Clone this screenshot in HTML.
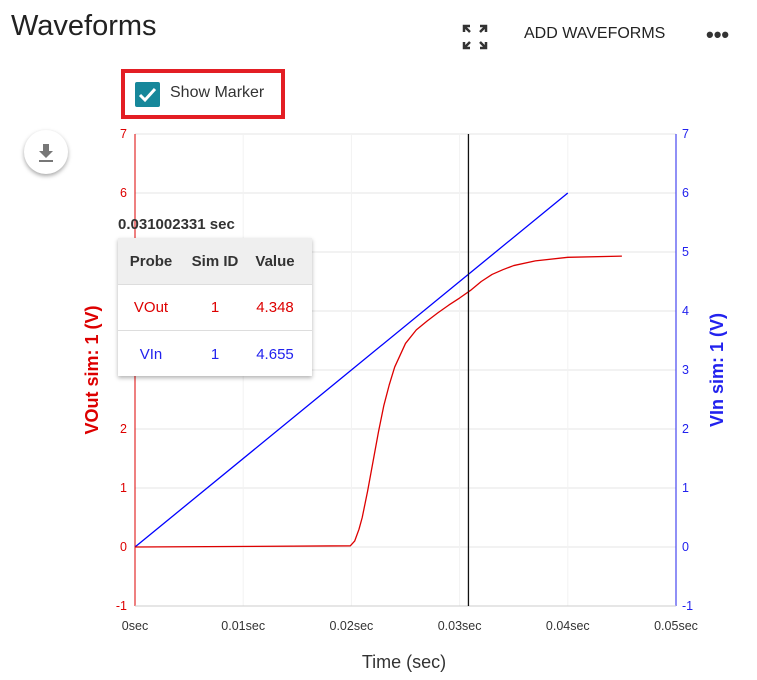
<!DOCTYPE html>
<html><head><meta charset="utf-8"><style>
body{margin:0;width:757px;height:680px;background:#fff;font-family:"Liberation Sans",sans-serif;position:relative;overflow:hidden}
.abs{position:absolute}
</style></head><body>
<div class="abs" style="left:11px;top:10px;font-size:29px;color:#222">Waveforms</div>
<div class="abs" style="left:462px;top:24px;width:26px;height:26px">
<svg width="26" height="26" viewBox="0 0 26 26" fill="none" stroke="#333" stroke-width="2.5"><path d="M2 8V2h6M18 2h6v6M24 18v6h-6M8 24H2v-6M3 3l5 5M23 3l-5 5M23 23l-5-5M3 23l5-5"/></svg></div>
<div class="abs" style="left:524px;top:25px;font-size:16px;color:#222">ADD WAVEFORMS</div>
<div class="abs" style="left:706px;top:22px;font-size:22px;color:#333;font-weight:bold">•••</div>
<div class="abs" style="left:121px;top:69px;width:156px;height:42px;border:4px solid #e31e24"></div>
<div class="abs" style="left:135px;top:82px;width:25px;height:25px;background:#16879a;border-radius:2px">
<svg width="25" height="25"><path d="M5 13l5 5 10-11" stroke="#fff" stroke-width="3" fill="none"/></svg></div>
<div class="abs" style="left:170px;top:84px;font-size:16px;color:#333">Show Marker</div>
<div class="abs" style="left:24px;top:130px;width:44px;height:44px;border-radius:50%;background:#fff;box-shadow:0 2px 4px rgba(0,0,0,.35)">
<svg width="44" height="44"><path d="M19 14h6v7h4l-7 7-7-7h4z" fill="#777"/><rect x="15" y="30" width="14" height="2" fill="#777"/></svg></div>
<svg class="abs" style="left:0;top:0" width="757" height="680" id="chart"></svg>
<div class="abs" style="left:118px;top:216px;font-size:15px;font-weight:bold;color:#333">0.031002331 sec</div>
<div class="abs" style="left:118px;top:238px;width:194px;height:138px;background:#fff;box-shadow:0 2px 4px rgba(0,0,0,.3);font-size:15px">
<div style="height:46px;background:#efefef;border-bottom:1px solid #ddd;display:flex;align-items:center;font-weight:bold;color:#333"><span style="width:66px;text-align:center">Probe</span><span style="width:62px;text-align:center">Sim ID</span><span style="width:58px;text-align:center">Value</span></div>
<div style="height:45px;border-bottom:1px solid #ddd;display:flex;align-items:center;color:#d00"><span style="width:66px;text-align:center">VOut</span><span style="width:62px;text-align:center">1</span><span style="width:58px;text-align:center">4.348</span></div>
<div style="height:46px;display:flex;align-items:center;color:#22e"><span style="width:66px;text-align:center">VIn</span><span style="width:62px;text-align:center">1</span><span style="width:58px;text-align:center">4.655</span></div>
</div>
<script>
const yTicks=[-1,0,1,2,3,4,5,6,7];
const xTicks=[0,0.01,0.02,0.03,0.04,0.05];
const xTickLabels=["0sec","0.01sec","0.02sec","0.03sec","0.04sec","0.05sec"];
const vinT=[0,0.04];
const vinV=[0,6];
const voutT=[0,0.0199,0.0203,0.0207,0.021,0.0215,0.022,0.0225,0.023,0.0235,0.024,0.025,0.026,0.027,0.028,0.029,0.030,0.031,0.032,0.033,0.034,0.035,0.037,0.04,0.045];
const voutV=[0,0.02,0.1,0.3,0.5,0.95,1.45,1.95,2.4,2.75,3.05,3.45,3.68,3.83,3.97,4.1,4.22,4.348,4.5,4.62,4.7,4.77,4.85,4.91,4.93];
const markerT=0.031002331;
const X0=135,X1=676,Y0=606,Y1=134;
const sx=t=>X0+(t-0)/(0.05)*(X1-X0);
const sy=v=>Y0-(v+1)/8*(Y0-Y1);
const svg=document.getElementById('chart');
const NS='http://www.w3.org/2000/svg';
function mk(tag,attrs,txt){const e=document.createElementNS(NS,tag);for(const k in attrs)e.setAttribute(k,attrs[k]);if(txt!==undefined)e.textContent=txt;svg.appendChild(e);return e;}
yTicks.forEach(v=>{
 const g=mk('line',{x1:X0,x2:X1,y1:sy(v),y2:sy(v),stroke:'#e6e6e6'});
 
 const l=mk('text',{x:X0-8,y:sy(v)+4,'text-anchor':'end','font-size':12.5,fill:'#d00'},v);
 
 const r=mk('text',{x:X1+6,y:sy(v)+4,'font-size':12.5,fill:'#22e'},v);
 
});
xTicks.forEach((t,i)=>{
 const g=mk('line',{x1:sx(t),x2:sx(t),y1:Y1,y2:Y0,stroke:'#f2f2f2'});
 
 const l=mk('text',{x:sx(t),y:Y0+24,'text-anchor':'middle','font-size':12.5,fill:'#333'},xTickLabels[i]);
 
});
let a=mk('line',{x1:X0,x2:X0,y1:Y1,y2:Y0,stroke:'#d00'});
a=mk('line',{x1:X1,x2:X1,y1:Y1,y2:Y0,stroke:'#22e'});
a=mk('line',{x1:X0,x2:X1,y1:Y0,y2:Y0,stroke:'#ccc'});
let p=mk('polyline',{points:vinT.map((t,i)=>sx(t)+','+sy(vinV[i])).join(' '),fill:'none',stroke:'#00f','stroke-width':1.3});

p=mk('polyline',{points:voutT.map((t,i)=>sx(t)+','+sy(voutV[i])).join(' '),fill:'none',stroke:'#d00','stroke-width':1.3,'stroke-linejoin':'round'});

let m=mk('line',{x1:sx(markerT)-2,x2:sx(markerT)-2,y1:Y1,y2:Y0,stroke:'#111','stroke-width':1.3});

let t=mk('text',{x:404,y:668,'text-anchor':'middle','font-size':18,fill:'#333'},'Time (sec)');

t=mk('text',{x:98,y:370,'text-anchor':'middle','font-size':18,'font-weight':'bold',fill:'#d00',transform:'rotate(-90 98 370)'},'VOut sim: 1 (V)');

t=mk('text',{x:723,y:370,'text-anchor':'middle','font-size':18,'font-weight':'bold',fill:'#22e',transform:'rotate(-90 723 370)'},'VIn sim: 1 (V)');

</script>
</body></html>
